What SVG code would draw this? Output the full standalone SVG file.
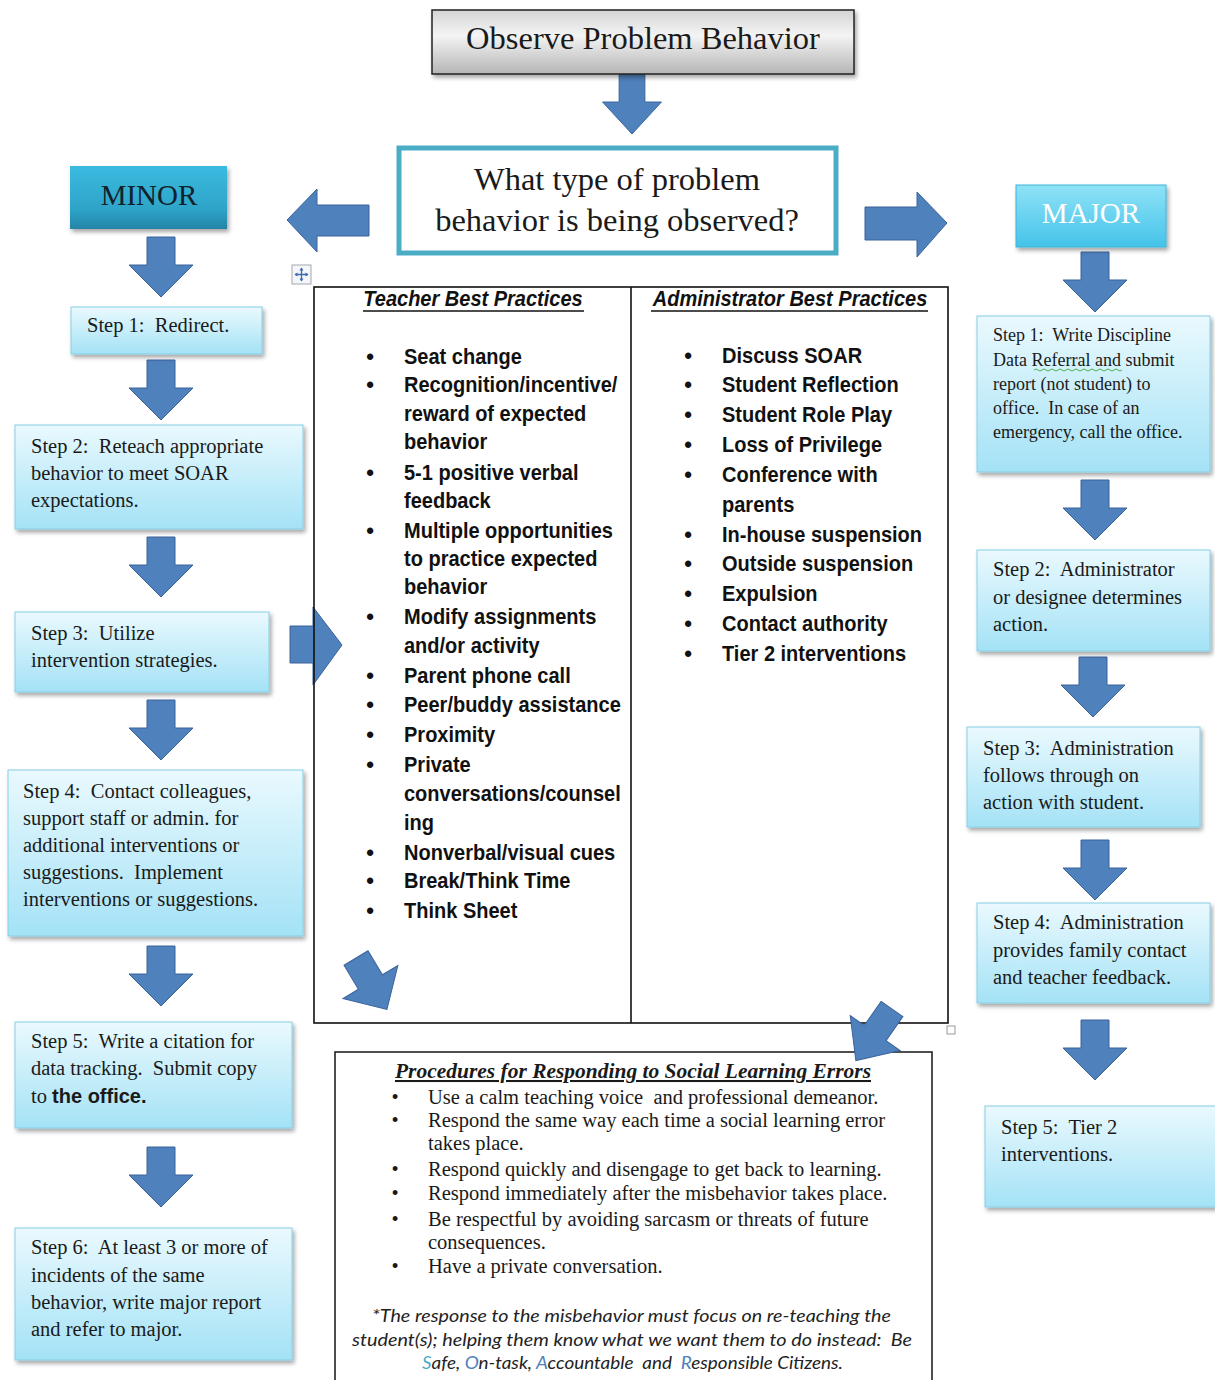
<svg xmlns="http://www.w3.org/2000/svg" width="1215" height="1380" viewBox="0 0 1215 1380">
<style>
text{white-space:pre}
.ser{font-family:"Liberation Serif","DejaVu Serif",serif;fill:#1a1a1a}
.st{font-size:20.5px}
.st16{font-size:18px}
.nar{font-family:"Liberation Sans",Arial,sans-serif;font-weight:bold;fill:#111;font-size:22px}
.box{fill:url(#stepG);stroke:#86cfe6;stroke-width:1;filter:url(#sh)}
.arr{fill:#4f81bd;stroke:#3a639a;stroke-width:1}
.tbl{fill:none;stroke:#111;stroke-width:1.6}
.proc{font-family:"Liberation Serif","DejaVu Serif",serif;font-size:20.5px;fill:#1a1a1a}
.note{font-family:Lato,"Open Sans",sans-serif;font-style:italic;font-size:18px;fill:#222}
.blu{fill:#4f81bd}
</style>
<defs>
<linearGradient id="stepG" x1="0" y1="0" x2="0" y2="1">
<stop offset="0" stop-color="#eaf9fe"/>
<stop offset="1" stop-color="#a4e2f6"/>
</linearGradient>
<linearGradient id="greyG" x1="0" y1="0" x2="0" y2="1">
<stop offset="0" stop-color="#d4d4d4"/>
<stop offset="0.4" stop-color="#f4f4f4"/>
<stop offset="1" stop-color="#b5b5b5"/>
</linearGradient>
<linearGradient id="minorG" x1="0" y1="0" x2="0" y2="1">
<stop offset="0" stop-color="#3bbbe0"/>
<stop offset="0.7" stop-color="#2ea3c8"/>
<stop offset="1" stop-color="#2484a6"/>
</linearGradient>
<linearGradient id="majorG" x1="0" y1="0" x2="0" y2="1">
<stop offset="0" stop-color="#8fe2f6"/>
<stop offset="1" stop-color="#45c3ea"/>
</linearGradient>
<filter id="sh" x="-10%" y="-10%" width="125%" height="130%">
<feDropShadow dx="2" dy="3" stdDeviation="2" flood-color="#000" flood-opacity="0.35"/>
</filter>
<path id="dn" d="M-14,0 H14 V28 H32 L0,60 L-32,28 H-14 Z"/>
</defs>
<rect width="1215" height="1380" fill="#ffffff"/>

<g id="connectors">
<use href="#dn" class="arr" transform="translate(632,74) scale(0.92,1)"/>
<path class="arr" d="M369,205 H317 V189 L287,220 L317,252 V236 H369 Z"/>
<path class="arr" d="M865,207 H917 V192 L947,223 L917,257 V240 H865 Z"/>
<use href="#dn" class="arr" transform="translate(161,237)"/>
<use href="#dn" class="arr" transform="translate(161,360)"/>
<use href="#dn" class="arr" transform="translate(161,537)"/>
<use href="#dn" class="arr" transform="translate(161,700)"/>
<use href="#dn" class="arr" transform="translate(161,946)"/>
<use href="#dn" class="arr" transform="translate(161,1147)"/>
<use href="#dn" class="arr" transform="translate(1095,252)"/>
<use href="#dn" class="arr" transform="translate(1095,480)"/>
<use href="#dn" class="arr" transform="translate(1093,657)"/>
<use href="#dn" class="arr" transform="translate(1095,840)"/>
<use href="#dn" class="arr" transform="translate(1095,1020)"/>
<path class="arr" d="M290,626 H313 V607 L342,645 L313,685 V663 H290 Z"/>
</g>

<g id="observe">
<rect x="432" y="10" width="422" height="64" fill="url(#greyG)" stroke="#222" stroke-width="1.5" filter="url(#sh)"/>
<text class="ser" x="643" y="49" font-size="32.5" text-anchor="middle">Observe Problem Behavior</text>
</g>

<g id="question">
<rect x="399" y="148" width="437" height="105" fill="#fff" stroke="#4bacc6" stroke-width="5"/>
<text class="ser" x="617" y="190" font-size="32.5" text-anchor="middle">What type of problem</text>
<text class="ser" x="617" y="231" font-size="32.5" text-anchor="middle">behavior is being observed?</text>
</g>

<g id="minor">
<rect x="70" y="166" width="157" height="63" fill="url(#minorG)" filter="url(#sh)"/>
<text class="ser" x="149" y="205" font-size="29" text-anchor="middle" style="fill:#10232b">MINOR</text>
</g>

<g id="major">
<rect x="1016" y="185" width="150" height="62" fill="url(#majorG)" stroke="#3fb4d8" stroke-width="1" filter="url(#sh)"/>
<text x="1091" y="223" font-size="29" text-anchor="middle" font-family="Liberation Serif, serif" fill="#ffffff">MAJOR</text>
</g>

<g id="minor-step1">
<rect class="box" x="71" y="307" width="191" height="47"/>
<text class="ser st" x="87" y="332">Step 1:  Redirect.</text>
</g>
<g id="minor-step2">
<rect class="box" x="15" y="425" width="288" height="104"/>
<text class="ser st" x="31" y="453">Step 2:  Reteach appropriate</text>
<text class="ser st" x="31" y="480">behavior to meet SOAR</text>
<text class="ser st" x="31" y="507">expectations.</text>
</g>
<g id="minor-step3">
<rect class="box" x="15" y="612" width="254" height="80"/>
<text class="ser st" x="31" y="640">Step 3:  Utilize</text>
<text class="ser st" x="31" y="667">intervention strategies.</text>
</g>
<g id="minor-step4">
<rect class="box" x="8" y="770" width="295" height="166"/>
<text class="ser st" x="23" y="798">Step 4:  Contact colleagues,</text>
<text class="ser st" x="23" y="825">support staff or admin. for</text>
<text class="ser st" x="23" y="852">additional interventions or</text>
<text class="ser st" x="23" y="879">suggestions.  Implement</text>
<text class="ser st" x="23" y="906">interventions or suggestions.</text>
</g>
<g id="minor-step5">
<rect class="box" x="15" y="1022" width="277" height="106"/>
<text class="ser st" x="31" y="1048">Step 5:  Write a citation for</text>
<text class="ser st" x="31" y="1075">data tracking.  Submit copy</text>
<text class="ser st" x="31" y="1103">to <tspan font-family="Liberation Sans, Arial, sans-serif" font-weight="bold" font-size="20">the office.</tspan></text>
</g>
<g id="minor-step6">
<rect class="box" x="15" y="1228" width="277" height="132"/>
<text class="ser st" x="31" y="1254">Step 6:  At least 3 or more of</text>
<text class="ser st" x="31" y="1282">incidents of the same</text>
<text class="ser st" x="31" y="1309">behavior, write major report</text>
<text class="ser st" x="31" y="1336">and refer to major.</text>
</g>

<g id="major-step1">
<rect class="box" x="977" y="316" width="233" height="156"/>
<text class="ser st16" x="993" y="341">Step 1:  Write Discipline</text>
<text class="ser st16" x="993" y="366">Data Referral and submit</text>
<text class="ser st16" x="993" y="390">report (not student) to</text>
<text class="ser st16" x="993" y="414">office.  In case of an</text>
<text class="ser st16" x="993" y="438">emergency, call the office.</text>
<path d="M1034,370 q2,-2 4,0 t4,0 t4,0 t4,0 t4,0 t4,0 t4,0 t4,0 t4,0 t4,0 t4,0 t4,0 t4,0 t4,0 t4,0 t4,0 t4,0 t4,0 t4,0 t4,0 t4,0 t4,0" fill="none" stroke="#4caf50" stroke-width="1"/>
</g>
<g id="major-step2">
<rect class="box" x="977" y="550" width="233" height="101"/>
<text class="ser st" x="993" y="576">Step 2:  Administrator</text>
<text class="ser st" x="993" y="604">or designee determines</text>
<text class="ser st" x="993" y="631">action.</text>
</g>
<g id="major-step3">
<rect class="box" x="967" y="727" width="233" height="100"/>
<text class="ser st" x="983" y="755">Step 3:  Administration</text>
<text class="ser st" x="983" y="782">follows through on</text>
<text class="ser st" x="983" y="809">action with student.</text>
</g>
<g id="major-step4">
<rect class="box" x="977" y="903" width="233" height="100"/>
<text class="ser st" x="993" y="929">Step 4:  Administration</text>
<text class="ser st" x="993" y="957">provides family contact</text>
<text class="ser st" x="993" y="984">and teacher feedback.</text>
</g>
<g id="major-step5">
<rect class="box" x="985" y="1106" width="240" height="101"/>
<text class="ser st" x="1001" y="1134">Step 5:  Tier 2</text>
<text class="ser st" x="1001" y="1161">interventions.</text>
</g>

<g id="best-practices">
<rect x="292" y="265" width="19" height="19" fill="#f3f6fb" stroke="#a8a8a8" stroke-width="1"/>
<path d="M301.5,268 V281 M295,274.5 H308" stroke="#3d68b0" stroke-width="1.3"/>
<path d="M301.5,267.5 l-2,3 h4 z M301.5,281.5 l-2,-3 h4 z M294.5,274.5 l3,-2 v4 z M308.5,274.5 l-3,-2 v4 z" fill="#3d68b0"/>
<rect class="tbl" x="314" y="287" width="634" height="736"/>
<line class="tbl" x1="631" y1="287" x2="631" y2="1023"/>
<rect x="947" y="1026" width="8" height="8" fill="#fff" stroke="#999" stroke-width="1"/>
<g transform="translate(473,0) scale(0.91,1)"><text class="nar" x="0" y="306" text-anchor="middle" font-style="italic">Teacher Best Practices</text></g>
<line x1="363" y1="311" x2="584" y2="311" stroke="#111" stroke-width="1.6"/>
<g transform="translate(790,0) scale(0.91,1)"><text class="nar" x="0" y="306" text-anchor="middle" font-style="italic">Administrator Best Practices</text></g>
<line x1="651" y1="311" x2="928" y2="311" stroke="#111" stroke-width="1.6"/>
<g class="nar">
<text x="370" y="364" text-anchor="middle">•</text>
<text x="370" y="392" text-anchor="middle">•</text>
<text x="370" y="480" text-anchor="middle">•</text>
<text x="370" y="538" text-anchor="middle">•</text>
<text x="370" y="624" text-anchor="middle">•</text>
<text x="370" y="683" text-anchor="middle">•</text>
<text x="370" y="712" text-anchor="middle">•</text>
<text x="370" y="742" text-anchor="middle">•</text>
<text x="370" y="772" text-anchor="middle">•</text>
<text x="370" y="860" text-anchor="middle">•</text>
<text x="370" y="888" text-anchor="middle">•</text>
<text x="370" y="918" text-anchor="middle">•</text>
<text x="688" y="363" text-anchor="middle">•</text>
<text x="688" y="392" text-anchor="middle">•</text>
<text x="688" y="422" text-anchor="middle">•</text>
<text x="688" y="452" text-anchor="middle">•</text>
<text x="688" y="482" text-anchor="middle">•</text>
<text x="688" y="542" text-anchor="middle">•</text>
<text x="688" y="571" text-anchor="middle">•</text>
<text x="688" y="601" text-anchor="middle">•</text>
<text x="688" y="631" text-anchor="middle">•</text>
<text x="688" y="661" text-anchor="middle">•</text>
<g transform="translate(404,0) scale(0.91,1)">
<text x="0" y="364">Seat change</text>
<text x="0" y="392">Recognition/incentive/</text>
<text x="0" y="421">reward of expected</text>
<text x="0" y="449">behavior</text>
<text x="0" y="480">5-1 positive verbal</text>
<text x="0" y="508">feedback</text>
<text x="0" y="538">Multiple opportunities</text>
<text x="0" y="566">to practice expected</text>
<text x="0" y="594">behavior</text>
<text x="0" y="624">Modify assignments</text>
<text x="0" y="653">and/or activity</text>
<text x="0" y="683">Parent phone call</text>
<text x="0" y="712">Peer/buddy assistance</text>
<text x="0" y="742">Proximity</text>
<text x="0" y="772">Private</text>
<text x="0" y="801">conversations/counsel</text>
<text x="0" y="830">ing</text>
<text x="0" y="860">Nonverbal/visual cues</text>
<text x="0" y="888">Break/Think Time</text>
<text x="0" y="918">Think Sheet</text>
</g>
<g transform="translate(722,0) scale(0.91,1)">
<text x="0" y="363">Discuss SOAR</text>
<text x="0" y="392">Student Reflection</text>
<text x="0" y="422">Student Role Play</text>
<text x="0" y="452">Loss of Privilege</text>
<text x="0" y="482">Conference with</text>
<text x="0" y="512">parents</text>
<text x="0" y="542">In-house suspension</text>
<text x="0" y="571">Outside suspension</text>
<text x="0" y="601">Expulsion</text>
<text x="0" y="631">Contact authority</text>
<text x="0" y="661">Tier 2 interventions</text>
</g>
</g>
</g>

<g id="procedures">
<rect x="335" y="1052" width="597" height="340" fill="#fff" stroke="#222" stroke-width="1.6"/>
<text class="proc" x="395" y="1078" font-weight="bold" font-style="italic" font-size="21" text-decoration="underline" textLength="476" lengthAdjust="spacingAndGlyphs">Procedures for Responding to Social Learning Errors</text>
<g class="proc">
<text x="395" y="1104" text-anchor="middle">•</text><text x="428" y="1104">Use a calm teaching voice  and professional demeanor.</text>
<text x="395" y="1127" text-anchor="middle">•</text><text x="428" y="1127">Respond the same way each time a social learning error</text>
<text x="428" y="1150">takes place.</text>
<text x="395" y="1176" text-anchor="middle">•</text><text x="428" y="1176">Respond quickly and disengage to get back to learning.</text>
<text x="395" y="1200" text-anchor="middle">•</text><text x="428" y="1200">Respond immediately after the misbehavior takes place.</text>
<text x="395" y="1226" text-anchor="middle">•</text><text x="428" y="1226">Be respectful by avoiding sarcasm or threats of future</text>
<text x="428" y="1249">consequences.</text>
<text x="395" y="1273" text-anchor="middle">•</text><text x="428" y="1273">Have a private conversation.</text>
</g>
<text class="note" x="372" y="1322" textLength="519" lengthAdjust="spacingAndGlyphs">*The response to the misbehavior must focus on re-teaching the</text>
<text class="note" x="352" y="1346" textLength="560" lengthAdjust="spacingAndGlyphs">student(s); helping them know what we want them to do instead:  Be</text>
<text class="note" x="422" y="1369" textLength="421" lengthAdjust="spacingAndGlyphs"><tspan style="fill:#4bacc6">S</tspan>afe, <tspan class="blu">O</tspan>n-task, <tspan class="blu">A</tspan>ccountable  and  <tspan class="blu">R</tspan>esponsible Citizens.</text>
</g>

<g id="diagonal-connectors">
<use href="#dn" class="arr" transform="translate(356,958) rotate(-31)"/>
<use href="#dn" class="arr" transform="translate(892,1009) rotate(35) scale(0.95,1.05)"/>
</g>
</svg>
